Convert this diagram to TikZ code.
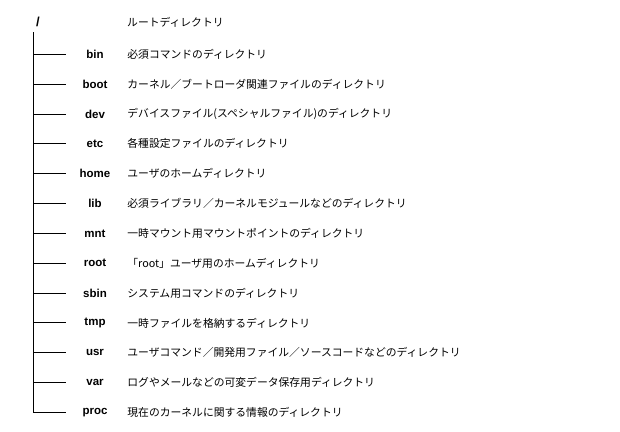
\documentclass[tikz,border=0pt]{standalone}
\usepackage{fontspec}
\setmainfont{Liberation Sans}
\newfontfamily\jpfont{Noto Sans CJK JP}
\usetikzlibrary{positioning}
\tikzstyle{dirname} = [text width=40pt, 
inner sep=0pt, 
align=center, 
font=\fontsize{11.5}{13}\selectfont\bfseries]
\tikzstyle{dirdesc} = [inner sep=0pt, 
anchor=west, 
font=\jpfont\fontsize{10.8}{13}\selectfont]
\tikzstyle{rootname} = [inner sep=0pt, 
font=\fontsize{13}{14}\selectfont\bfseries]
\tikzstyle{branch} = [line width=0.8pt, black]

\begin{document}
\begin{tikzpicture}[x=1pt, y=-1pt, node distance=29.85pt]
	\useasboundingbox (0,0) rectangle (620,431);
	
	\node (slash) [rootname] at (38,22) {/};
	\node (slashdesc) [dirdesc] at (127,22) {ルートディレクトリ};
	\coordinate (trunk) at (33,32);
	
	\node (bin) [dirname] at (95,54.2) {bin};
	\node (boot) [dirname, below of=bin] {boot};
	\node (dev) [dirname, below of=boot] {dev};
	\node (etc) [dirname, below of=dev] {etc};
	\node (home) [dirname, below of=etc] {home};
	\node (lib) [dirname, below of=home] {lib};
	\node (mnt) [dirname, below of=lib] {mnt};
	\node (root) [dirname, below of=mnt] {root};
	\node (sbin) [dirname, below of=root] {sbin};
	\node (tmp) [dirname, below of=sbin] {tmp};
	\node (usr) [dirname, below of=tmp] {usr};
	\node (var) [dirname, below of=usr] {var};
	\node (proc) [dirname, below of=var] {proc};
	
	\node (bindesc) [dirdesc, right=12pt of bin] {必須コマンドのディレクトリ};
	\node (bootdesc) [dirdesc, right=12pt of boot] {カーネル／ブートローダ関連ファイルのディレクトリ};
	\node (devdesc) [dirdesc, right=12pt of dev] {デバイスファイル(スペシャルファイル)のディレクトリ};
	\node (etcdesc) [dirdesc, right=12pt of etc] {各種設定ファイルのディレクトリ};
	\node (homedesc) [dirdesc, right=12pt of home] {ユーザのホームディレクトリ};
	\node (libdesc) [dirdesc, right=12pt of lib] {必須ライブラリ／カーネルモジュールなどのディレクトリ};
	\node (mntdesc) [dirdesc, right=12pt of mnt] {一時マウント用マウントポイントのディレクトリ};
	\node (rootdesc) [dirdesc, right=12pt of root] {「root」ユーザ用のホームディレクトリ};
	\node (sbindesc) [dirdesc, right=12pt of sbin] {システム用コマンドのディレクトリ};
	\node (tmpdesc) [dirdesc, right=12pt of tmp] {一時ファイルを格納するディレクトリ};
	\node (usrdesc) [dirdesc, right=12pt of usr] {ユーザコマンド／開発用ファイル／ソースコードなどのディレクトリ};
	\node (vardesc) [dirdesc, right=12pt of var] {ログやメールなどの可変データ保存用ディレクトリ};
	\node (procdesc) [dirdesc, right=12pt of proc] {現在のカーネルに関する情報のディレクトリ};
	
	\draw [branch] (trunk) |- ([xshift=-9pt]proc.west);
	\draw [branch] (trunk |- bin) -- ([xshift=-9pt]bin.west);
	\draw [branch] (trunk |- boot) -- ([xshift=-9pt]boot.west);
	\draw [branch] (trunk |- dev) -- ([xshift=-9pt]dev.west);
	\draw [branch] (trunk |- etc) -- ([xshift=-9pt]etc.west);
	\draw [branch] (trunk |- home) -- ([xshift=-9pt]home.west);
	\draw [branch] (trunk |- lib) -- ([xshift=-9pt]lib.west);
	\draw [branch] (trunk |- mnt) -- ([xshift=-9pt]mnt.west);
	\draw [branch] (trunk |- root) -- ([xshift=-9pt]root.west);
	\draw [branch] (trunk |- sbin) -- ([xshift=-9pt]sbin.west);
	\draw [branch] (trunk |- tmp) -- ([xshift=-9pt]tmp.west);
	\draw [branch] (trunk |- usr) -- ([xshift=-9pt]usr.west);
	\draw [branch] (trunk |- var) -- ([xshift=-9pt]var.west);
	
\end{tikzpicture}
\end{document}
